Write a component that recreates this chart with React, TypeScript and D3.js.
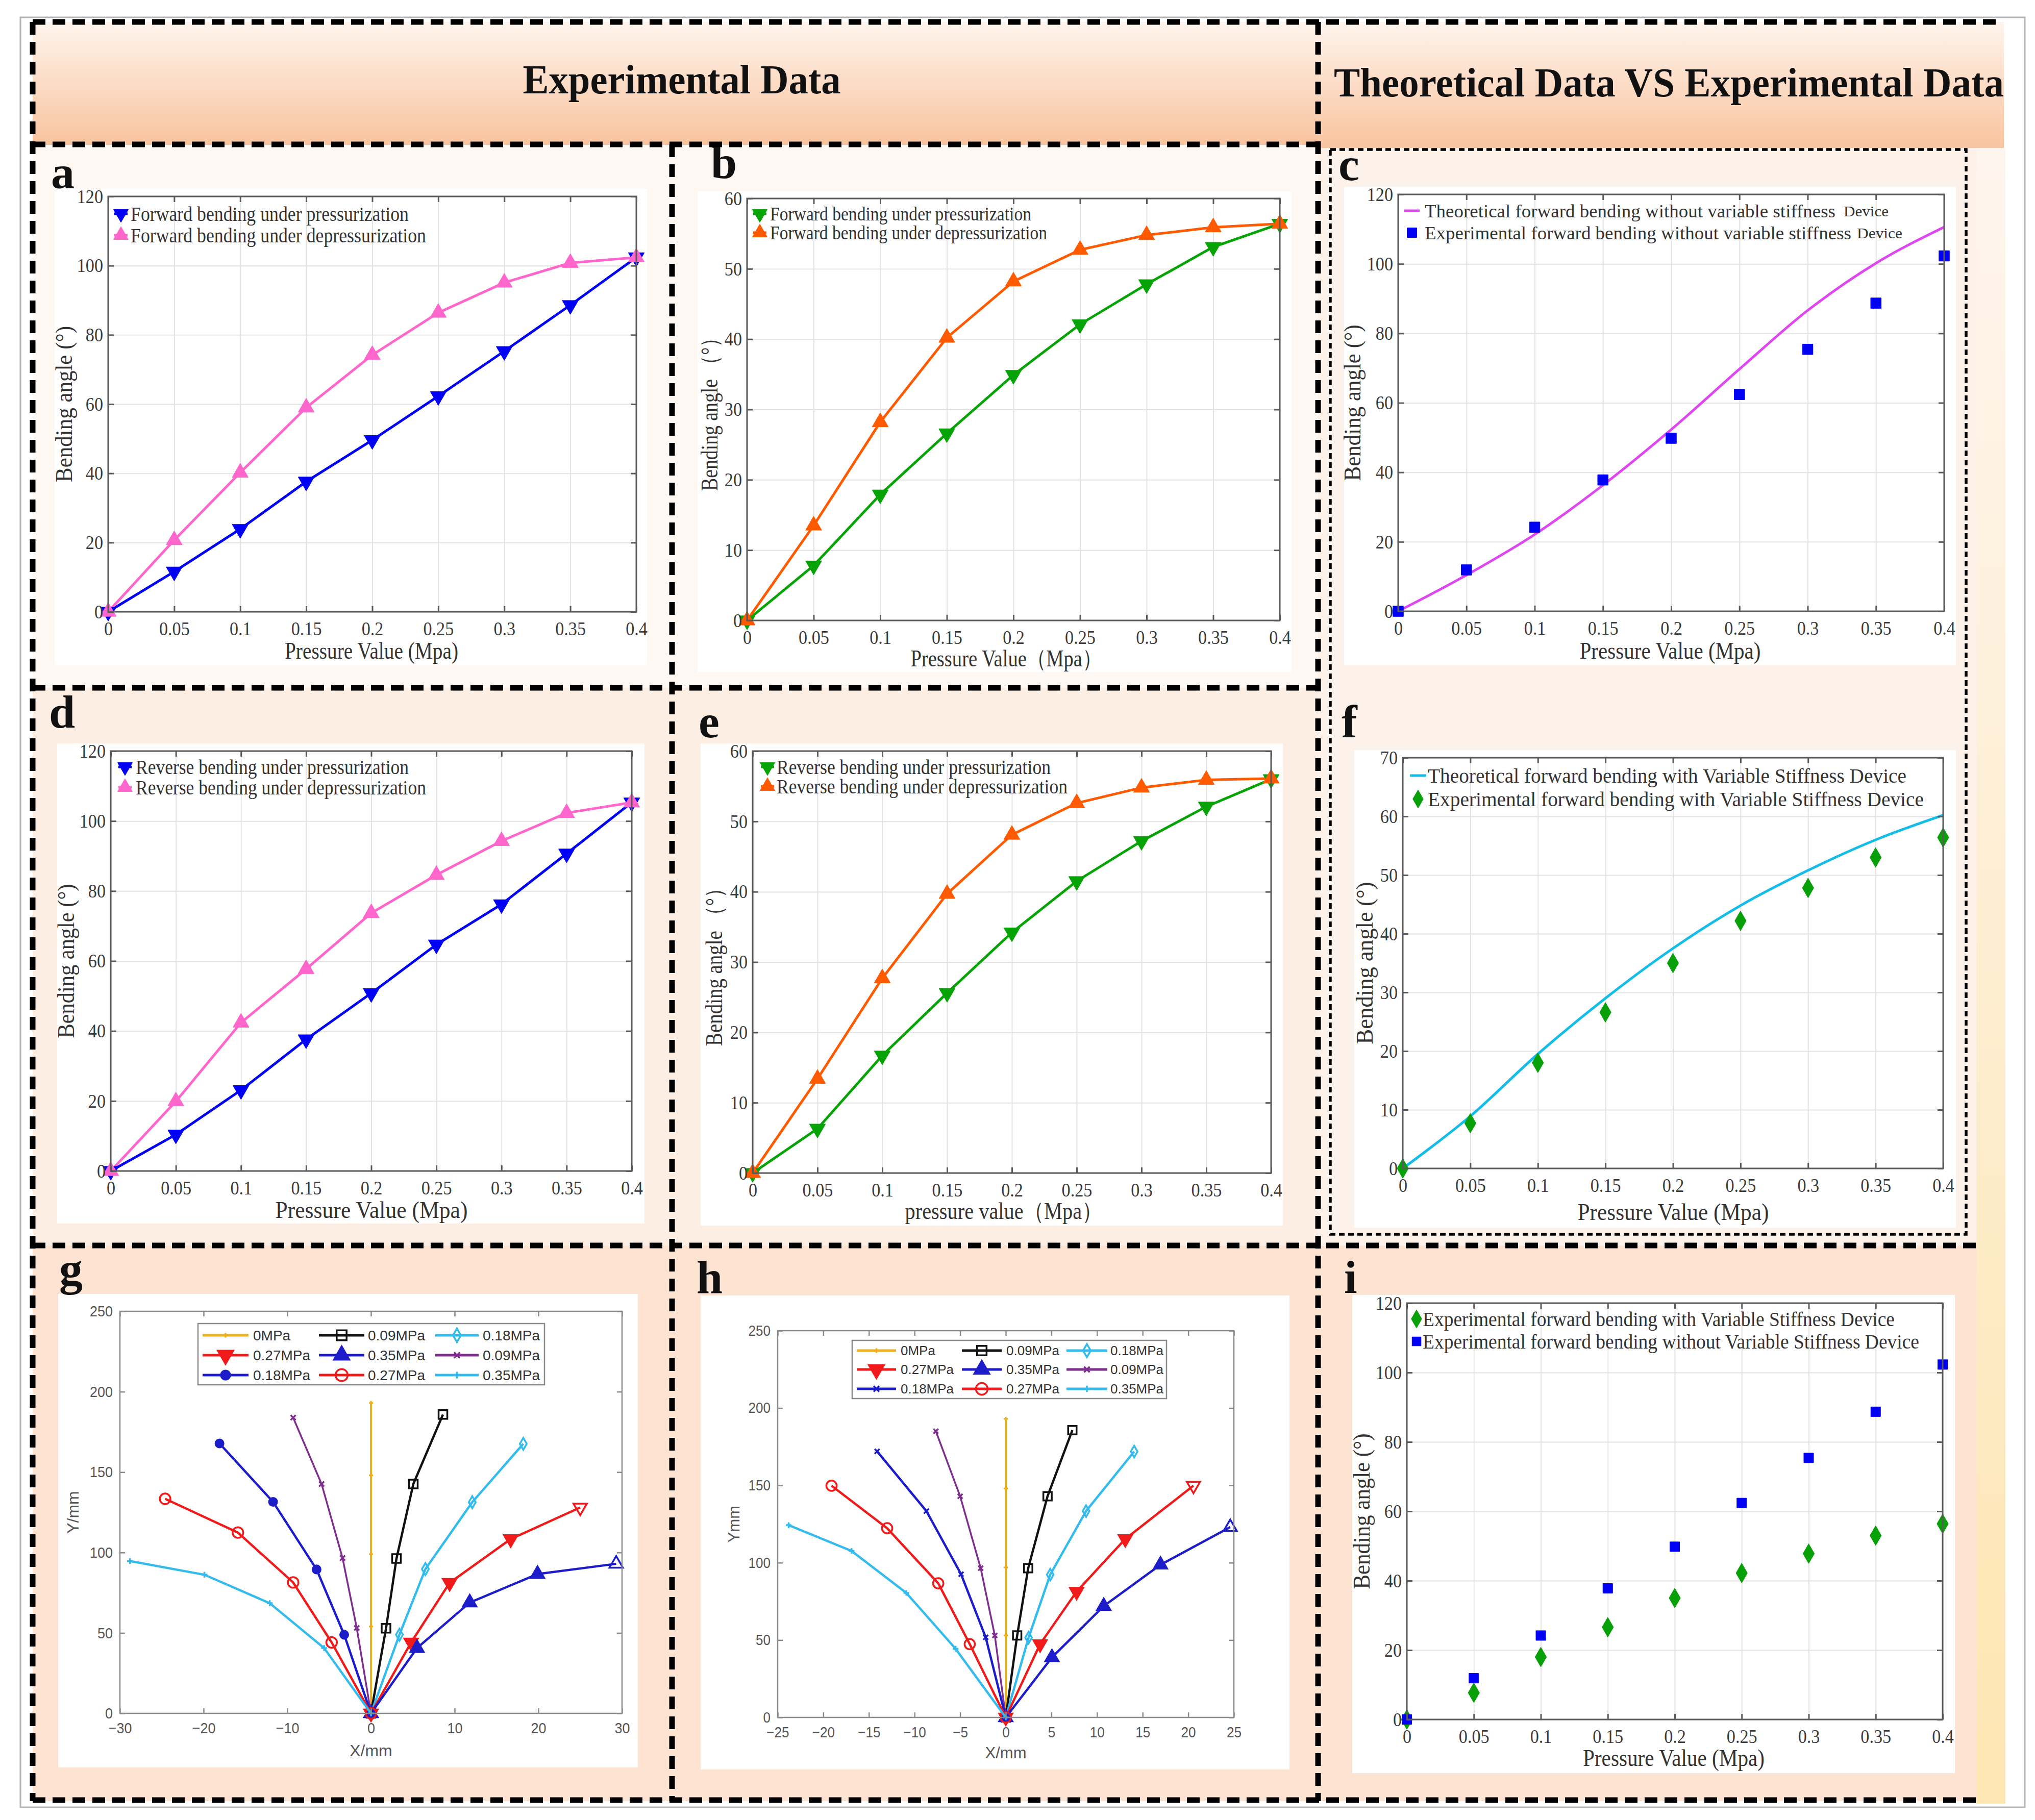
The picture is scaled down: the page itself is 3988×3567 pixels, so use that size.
import React, { useEffect, useRef } from 'react'
import * as d3 from 'd3'

const W = 3988
const H = 3567
const SERIF = '"Liberation Serif", "Times New Roman", serif'
const SANS = '"Liberation Sans", Arial, sans-serif'

// pressure steps (MPa) shared by panels a-f and i
const pressure = [0, 0.05, 0.1, 0.15, 0.2, 0.25, 0.3, 0.35, 0.4]
const pressureLabels = ['0', '0.05', '0.1', '0.15', '0.2', '0.25', '0.3', '0.35', '0.4']

// a: forward bending, no variable stiffness device
const fwdPress = [0, 11.6, 23.9, 37.6, 49.6, 62.3, 75.3, 88.6, 102.4]
const fwdDepress = [0, 20.7, 40.2, 59, 74.2, 86.4, 95.1, 100.8, 102.4]
// b: forward bending, with device
const fwdPressVS = [0, 7.8, 17.9, 26.6, 34.9, 42.1, 47.8, 53.1, 56.4]
const fwdDepressVS = [0, 13.5, 28.2, 40.2, 48.2, 52.7, 54.8, 55.9, 56.4]
// c: theory vs experiment, no device
const theoryNoVS = [0, 10.4, 22.1, 36.3, 52.3, 69.7, 86.6, 100.2, 110.6]
const expNoVS = [0, 11.9, 24.2, 37.8, 49.8, 62.4, 75.4, 88.7, 102.3]
// d: reverse bending, no device
const revPress = [0, 10.4, 23.1, 37.6, 50.8, 64.7, 76.2, 90.7, 105.3]
const revDepress = [0, 19.9, 42.4, 57.7, 73.7, 84.6, 94.3, 102.3, 105.3]
// e: reverse bending, with device
const revPressVS = [0, 6.3, 16.7, 25.6, 34.2, 41.5, 47.2, 52.1, 56]
const revDepressVS = [0, 13.4, 27.7, 39.7, 48.1, 52.6, 54.8, 55.9, 56.1]
// f: theory vs experiment, with device
const theoryVS = [0, 8.9, 19.5, 29, 37.5, 44.8, 50.8, 56, 60.2]
const expVS = [0, 7.7, 18, 26.6, 35, 42.2, 47.8, 53, 56.4]

// g: tip trajectories (X/mm, Y/mm)
const g0X = [0, 0, 0, 0, 0]
const g0Y = [0, 54, 99, 148, 193]
const gR09X = [0, 1.8, 3.05, 5.06, 8.6]
const gR09Y = [0, 52.9, 96.3, 142.6, 185.8]
const gR18X = [0, 3.4, 6.5, 12.1, 18.2]
const gR18Y = [0, 48.9, 89.7, 131.3, 167.6]
const gR27X = [0, 4.8, 9.4, 16.7, 25]
const gR27Y = [0, 44.1, 81.2, 108.4, 128]
const gR35X = [0, 5.5, 11.8, 19.9, 29.3]
const gR35Y = [0, 40.6, 68.9, 86.6, 93]
const gL09X = [0, -1.7, -3.4, -5.9, -9.3]
const gL09Y = [0, 53.1, 96.6, 142.6, 183.9]
const gL18X = [0, -3.2, -6.5, -11.7, -18.1]
const gL18Y = [0, 48.9, 89.5, 131.5, 167.8]
const gL27X = [0, -4.7, -9.3, -15.9, -24.6]
const gL27Y = [0, 44.1, 81.4, 112.4, 133.4]
const gL35X = [0, -5.6, -12.1, -19.9, -28.8]
const gL35Y = [0, 40.6, 68.5, 86.2, 94.7]

// h: tip trajectories (X/mm, Y/mm)
const h0X = [0, 0, 0, 0, 0]
const h0Y = [0, 53, 97, 148, 193]
const hR09X = [0, 1.25, 2.46, 4.58, 7.3]
const hR09Y = [0, 53, 96.5, 143, 185.7]
const hR18X = [0, 2.5, 4.87, 8.8, 14.07]
const hR18Y = [0, 51.6, 92.3, 133.4, 171.9]
const hR27X = [0, 3.76, 7.76, 13.1, 20.57]
const hR27Y = [0, 47.4, 81.3, 115.4, 149.8]
const hR35X = [0, 5.06, 10.74, 16.96, 24.6]
const hR35Y = [0, 38.8, 72, 98.7, 123]
const hL09X = [0, -1.2, -2.75, -5, -7.66]
const hL09Y = [0, 53, 96.5, 143, 185]
const hL18X = [0, -2.2, -4.9, -8.7, -14.1]
const hL18Y = [0, 51.8, 92.6, 133.4, 172]
const hL27X = [0, -3.95, -7.4, -13, -19.1]
const hL27Y = [0, 47.4, 86.7, 122.3, 149.8]
const hL35X = [0, -5.5, -10.9, -16.9, -23.8]
const hL35Y = [0, 44.4, 80.5, 107.6, 124.3]

const trajLabels = ['0MPa', '0.09MPa', '0.18MPa', '0.27MPa', '0.35MPa', '0.09MPa', '0.18MPa', '0.27MPa', '0.35MPa']

type Mk = 'tup' | 'tdown' | 'square' | 'diamond' | 'circle' | 'plus' | 'times' | 'none'
type Sel = d3.Selection<any, unknown, null, undefined>

const symbolFor = (t: Mk): d3.SymbolType => {
    const s: any = d3
    switch (t) {
        case 'tup':
        case 'tdown': return d3.symbolTriangle
        case 'square': return d3.symbolSquare
        case 'diamond': return d3.symbolDiamond
        case 'circle': return d3.symbolCircle
        case 'plus': return s.symbolPlus ?? d3.symbolCross
        default: return s.symbolTimes ?? d3.symbolCross
    }
}

function addMarker(g: Sel, type: Mk, cx: number, cy: number, size: number, color: string, filled: boolean, sw = 3) {
    if (type === 'none') return
    const stroked = type === 'plus' || type === 'times'
    g.append('path')
        .attr('d', d3.symbol(symbolFor(type), size)() as string)
        .attr('transform', `translate(${cx},${cy})${type === 'tdown' ? ' rotate(180)' : ''}`)
        .attr('fill', !stroked && filled ? color : 'none')
        .attr('stroke', color)
        .attr('stroke-width', sw)
}

interface AxStyle { font: string; fs: number; line: string; text: string; sw: number; tick: number; padX: number; padY: number }

// MATLAB-like box: inward ticks on all four sides
function boxAxes(root: Sel, x: d3.ScaleLinear<number, number>, y: d3.ScaleLinear<number, number>,
    xTicks: number[], yTicks: number[], xFmt: (d: any, i: number) => string, ax: number[], st: AxStyle) {
    const [L, T, R, B] = ax
    const style = (s: Sel, labels: boolean) => {
        s.select('.domain').remove()
        s.selectAll('line').attr('stroke', st.line).attr('stroke-width', st.sw)
        if (labels) s.selectAll('text').attr('class', 'cz').attr('font-family', st.font).attr('font-size', st.fs).attr('fill', st.text)
        else s.selectAll('text').remove()
    }
    root.append('g').attr('transform', `translate(0,${B})`)
        .call(d3.axisBottom(x).tickValues(xTicks).tickFormat(xFmt).tickSizeInner(-st.tick).tickSizeOuter(0).tickPadding(st.padX))
        .call(s => style(s, true))
    root.append('g').attr('transform', `translate(0,${T})`)
        .call(d3.axisTop(x).tickValues(xTicks).tickFormat(() => '').tickSizeInner(-st.tick).tickSizeOuter(0))
        .call(s => style(s, false))
    root.append('g').attr('transform', `translate(${L},0)`)
        .call(d3.axisLeft(y).tickValues(yTicks).tickFormat(d3.format('d')).tickSizeInner(-st.tick).tickSizeOuter(0).tickPadding(st.padY))
        .call(s => style(s, true))
    root.append('g').attr('transform', `translate(${R},0)`)
        .call(d3.axisRight(y).tickValues(yTicks).tickFormat(() => '').tickSizeInner(-st.tick).tickSizeOuter(0))
        .call(s => style(s, false))
    root.append('rect').attr('x', L).attr('y', T).attr('width', R - L).attr('height', B - T)
        .attr('fill', 'none').attr('stroke', st.line).attr('stroke-width', st.sw)
}

interface SeriesCfg {
    values: number[]; color: string; marker: Mk; size: number; line: boolean; smooth?: boolean; label: string
    tail?: string; tailX?: number; tailLen?: number
}
interface SerifCfg {
    box: number[]; ax: number[]; yMax: number; yStep: number; series: SeriesCfg[]
    legY: number[]; legMarkX: number; legLine: number; legTextX: number; legFs: number; legLens: number[]
    xLabel: string; xLabelX: number; xLabelY: number; xLabelLen: number
    yLabel: string; yLabelX: number; yLabelLen: number
}

const serifStyle: AxStyle = { font: SERIF, fs: 38, line: '#5a5a5a', text: '#3a3a3a', sw: 3, tick: 11, padX: 19, padY: 10 }

function serifPanel(root: Sel, p: SerifCfg) {
    const [L, T, R, B] = p.ax
    const x = d3.scaleLinear().domain([0, 0.4]).range([L, R])
    const y = d3.scaleLinear().domain([0, p.yMax]).range([B, T])
    const yTicks = d3.range(0, p.yMax + 1e-9, p.yStep)
    const g = root.append('g')
    g.append('rect').attr('x', p.box[0]).attr('y', p.box[1])
        .attr('width', p.box[2] - p.box[0]).attr('height', p.box[3] - p.box[1]).attr('fill', '#fff')

    // grid
    g.append('g').attr('transform', `translate(0,${B})`)
        .call(d3.axisBottom(x).tickValues(pressure).tickSize(-(B - T)).tickFormat(() => ''))
        .call(s => { s.select('.domain').remove(); s.selectAll('text').remove(); s.selectAll('line').attr('stroke', '#e3e3e3').attr('stroke-width', 2) })
    g.append('g').attr('transform', `translate(${L},0)`)
        .call(d3.axisLeft(y).tickValues(yTicks).tickSize(-(R - L)).tickFormat(() => ''))
        .call(s => { s.select('.domain').remove(); s.selectAll('text').remove(); s.selectAll('line').attr('stroke', '#e3e3e3').attr('stroke-width', 2) })

    p.series.forEach(s => {
        if (!s.line) return
        const line = d3.line<number>().x((_, i) => x(pressure[i])).y(v => y(v))
            .curve(s.smooth ? d3.curveMonotoneX : d3.curveLinear)
        g.append('path').attr('d', line(s.values)).attr('fill', 'none').attr('stroke', s.color).attr('stroke-width', 5)
    })
    p.series.forEach(s => {
        s.values.forEach((v, i) => addMarker(g, s.marker, x(pressure[i]), y(v), s.size, s.color, true, 1))
    })

    boxAxes(g, x, y, pressure, yTicks, (_d, i) => pressureLabels[i], p.ax, serifStyle)

    // legend
    p.series.forEach((s, i) => {
        const ly = p.legY[i]
        if (s.line) g.append('line').attr('x1', p.legMarkX - p.legLine / 2).attr('x2', p.legMarkX + p.legLine / 2)
            .attr('y1', ly).attr('y2', ly).attr('stroke', s.color).attr('stroke-width', 5)
        addMarker(g, s.marker, p.legMarkX, ly, s.size * 0.85, s.color, true, 1)
        g.append('text').attr('x', p.legTextX).attr('y', ly).attr('dy', '0.35em')
            .attr('font-family', SERIF).attr('font-size', p.legFs).attr('fill', '#333')
            .attr('textLength', p.legLens[i]).attr('lengthAdjust', 'spacingAndGlyphs').text(s.label)
        if (s.tail) g.append('text').attr('x', s.tailX!).attr('y', ly).attr('dy', '0.35em')
            .attr('font-family', SERIF).attr('font-size', p.legFs * 0.84).attr('fill', '#333')
            .attr('textLength', s.tailLen!).attr('lengthAdjust', 'spacingAndGlyphs').text(s.tail)
    })

    g.append('text').attr('x', p.xLabelX).attr('y', p.xLabelY).attr('text-anchor', 'middle')
        .attr('font-family', SERIF).attr('font-size', 46).attr('fill', '#333')
        .attr('textLength', p.xLabelLen).attr('lengthAdjust', 'spacingAndGlyphs').text(p.xLabel)
    g.append('text').attr('transform', `translate(${p.yLabelX},${(T + B) / 2}) rotate(-90)`)
        .attr('text-anchor', 'middle').attr('dy', '0.35em')
        .attr('font-family', SERIF).attr('font-size', 46).attr('fill', '#333')
        .attr('textLength', p.yLabelLen).attr('lengthAdjust', 'spacingAndGlyphs').text(p.yLabel)
}

interface TrajSeries { xs: number[]; ys: number[]; color: string; marker: Mk; size: number; filled: boolean; lastOpen?: boolean; width?: number }
interface TrajCfg {
    box: number[]; ax: number[]; xMax: number; xStep: number; series: TrajSeries[]
    legBox: number[]; legRows: number[]; legCols: number[][]; legFs: number
    tickFs: number; xLabel: string; xLabelX: number; xLabelY: number; yLabel: string; yLabelX: number
}

function trajPanel(root: Sel, p: TrajCfg) {
    const [L, T, R, B] = p.ax
    const x = d3.scaleLinear().domain([-p.xMax, p.xMax]).range([L, R])
    const y = d3.scaleLinear().domain([0, 250]).range([B, T])
    const g = root.append('g')
    g.append('rect').attr('x', p.box[0]).attr('y', p.box[1])
        .attr('width', p.box[2] - p.box[0]).attr('height', p.box[3] - p.box[1]).attr('fill', '#fff')

    p.series.forEach(s => {
        const line = d3.line<number>().x(v => x(v)).y((_, i) => y(s.ys[i]))
        g.append('path').attr('d', line(s.xs)).attr('fill', 'none').attr('stroke', s.color).attr('stroke-width', s.width ?? 4.5)
        s.xs.forEach((v, i) => {
            const open = !s.filled || (s.lastOpen && i === s.xs.length - 1)
            addMarker(g, s.marker, x(v), y(s.ys[i]), s.size, s.color, !open, 3.5)
        })
    })

    const st: AxStyle = { font: SANS, fs: p.tickFs, line: '#8a8a8a', text: '#555', sw: 2.5, tick: 10, padX: 18, padY: 14 }
    const xTicks = d3.range(-p.xMax, p.xMax + 1e-9, p.xStep)
    boxAxes(g, x, y, xTicks, d3.range(0, 251, 50), d3.format('d'), p.ax, st)

    // legend, three columns
    const [bx0, by0, bx1, by1] = p.legBox
    g.append('rect').attr('x', bx0).attr('y', by0).attr('width', bx1 - bx0).attr('height', by1 - by0)
        .attr('fill', '#fff').attr('stroke', '#8a8a8a').attr('stroke-width', 2.5)
    p.series.forEach((s, i) => {
        const ly = p.legRows[Math.floor(i / 3)]
        const [x0, x1, tx] = p.legCols[i % 3]
        g.append('line').attr('x1', x0).attr('x2', x1).attr('y1', ly).attr('y2', ly)
            .attr('stroke', s.color).attr('stroke-width', 5)
        addMarker(g, s.marker, (x0 + x1) / 2, ly, s.size * 1.3, s.color, s.filled, 3.5)
        g.append('text').attr('x', tx).attr('y', ly).attr('dy', '0.36em')
            .attr('font-family', SANS).attr('font-size', p.legFs).attr('fill', '#333').text(trajLabels[i])
    })

    g.append('text').attr('x', p.xLabelX).attr('y', p.xLabelY).attr('text-anchor', 'middle')
        .attr('font-family', SANS).attr('font-size', p.tickFs + 2).attr('fill', '#555').text(p.xLabel)
    g.append('text').attr('transform', `translate(${p.yLabelX},${(T + B) / 2}) rotate(-90)`)
        .attr('text-anchor', 'middle').attr('dy', '0.35em')
        .attr('font-family', SANS).attr('font-size', p.tickFs + 2).attr('fill', '#555').text(p.yLabel)
}

const BLUE = '#0000f5'
const PINK = '#ff66cc'
const GREEN = '#05a305'
const ORANGE = '#ff5a00'
const MAGENTA = '#de46f0'
const CYANLINE = '#14bce8'
const DGREEN = '#08a008'

const YEL = '#edb120'
const BLK = '#111111'
const CYN = '#33bbee'
const RED = '#f01a1a'
const DBLU = '#1c1cc8'
const PUR = '#7e2f8e'

function draw(svg: Sel) {
    const defs = svg.append('defs')
    const hg = defs.append('linearGradient').attr('id', 'hdr').attr('x1', 0).attr('y1', 0).attr('x2', 0).attr('y2', 1)
    hg.append('stop').attr('offset', 0).attr('stop-color', '#fff4ec')
    hg.append('stop').attr('offset', 1).attr('stop-color', '#f8c39e')
    const sg = defs.append('linearGradient').attr('id', 'strip').attr('x1', 0).attr('y1', 0).attr('x2', 0).attr('y2', 1)
    sg.append('stop').attr('offset', 0).attr('stop-color', '#fef5ee')
    sg.append('stop').attr('offset', 1).attr('stop-color', '#fde6b2')

    svg.append('rect').attr('width', W).attr('height', H).attr('fill', '#fff')

    // backgrounds
    const bg = (x0: number, y0: number, x1: number, y1: number, fill: string) =>
        svg.append('rect').attr('x', x0).attr('y', y0).attr('width', x1 - x0).attr('height', y1 - y0).attr('fill', fill)
    bg(64, 43, 2583, 284, 'url(#hdr)')
    bg(2583, 43, 3927, 290, 'url(#hdr)')
    bg(64, 284, 2583, 1348, '#fff7f1')
    bg(64, 1348, 2583, 2441, '#fdeee4')
    bg(2583, 290, 3873, 2441, '#fdf2e9')
    bg(64, 2441, 3873, 3530, '#fde3d2')
    bg(3873, 290, 3930, 3535, 'url(#strip)')
    svg.append('rect').attr('x', 40).attr('y', 34).attr('width', 3928).attr('height', 3508)
        .attr('fill', 'none').attr('stroke', '#b4b4b4').attr('stroke-width', 3)

    // headers
    svg.append('text').attr('x', 1336).attr('y', 183).attr('text-anchor', 'middle')
        .attr('font-family', SERIF).attr('font-weight', 'bold').attr('font-size', 80).attr('fill', '#111')
        .attr('textLength', 623).attr('lengthAdjust', 'spacingAndGlyphs').text('Experimental Data')
    svg.append('text').attr('x', 2614).attr('y', 189)
        .attr('font-family', SERIF).attr('font-weight', 'bold').attr('font-size', 80).attr('fill', '#111')
        .attr('textLength', 1313).attr('lengthAdjust', 'spacingAndGlyphs').text('Theoretical Data VS Experimental Data')

    // a
    serifPanel(svg, {
        box: [107, 370, 1268, 1304], ax: [212, 385, 1247, 1199], yMax: 120, yStep: 20,
        series: [
            { values: fwdPress, color: BLUE, marker: 'tdown', size: 430, line: true, label: 'Forward bending under pressurization' },
            { values: fwdDepress, color: PINK, marker: 'tup', size: 430, line: true, label: 'Forward bending under depressurization' },
        ],
        legY: [419, 461], legMarkX: 237, legLine: 26, legTextX: 256, legFs: 39, legLens: [545, 579],
        xLabel: 'Pressure Value (Mpa)', xLabelX: 728, xLabelY: 1291, xLabelLen: 340,
        yLabel: 'Bending angle (°)', yLabelX: 125, yLabelLen: 306,
    })
    // b
    serifPanel(svg, {
        box: [1367, 375, 2531, 1317], ax: [1464, 389, 2508, 1216], yMax: 60, yStep: 10,
        series: [
            { values: fwdPressVS, color: GREEN, marker: 'tdown', size: 430, line: true, label: 'Forward bending under pressurization' },
            { values: fwdDepressVS, color: ORANGE, marker: 'tup', size: 430, line: true, label: 'Forward bending under depressurization' },
        ],
        legY: [419, 456], legMarkX: 1489, legLine: 26, legTextX: 1509, legFs: 37, legLens: [512, 543],
        xLabel: 'Pressure Value（Mpa）', xLabelX: 1972, xLabelY: 1306, xLabelLen: 375,
        yLabel: 'Bending angle （°）', yLabelX: 1390, yLabelLen: 319,
    })
    // c
    serifPanel(svg, {
        box: [2634, 366, 3833, 1304], ax: [2740, 381, 3810, 1198], yMax: 120, yStep: 20,
        series: [
            { values: theoryNoVS, color: MAGENTA, marker: 'none', size: 0, line: true, smooth: true, label: 'Theoretical forward bending without variable stiffness', tail: 'Device', tailX: 3613, tailLen: 88 },
            { values: expNoVS, color: BLUE, marker: 'square', size: 420, line: false, label: 'Experimental forward bending without variable stiffness', tail: 'Device', tailX: 3639, tailLen: 89 },
        ],
        legY: [413, 456], legMarkX: 2767, legLine: 30, legTextX: 2792, legFs: 36, legLens: [805, 836],
        xLabel: 'Pressure Value (Mpa)', xLabelX: 3273, xLabelY: 1291, xLabelLen: 355,
        yLabel: 'Bending angle (°)', yLabelX: 2650, yLabelLen: 306,
    })
    // d
    serifPanel(svg, {
        box: [112, 1457, 1263, 2398], ax: [217, 1472, 1238, 2295], yMax: 120, yStep: 20,
        series: [
            { values: revPress, color: BLUE, marker: 'tdown', size: 430, line: true, label: 'Reverse bending under pressurization' },
            { values: revDepress, color: PINK, marker: 'tup', size: 430, line: true, label: 'Reverse bending under depressurization' },
        ],
        legY: [1503, 1543], legMarkX: 245, legLine: 26, legTextX: 266, legFs: 39, legLens: [535, 569],
        xLabel: 'Pressure Value (Mpa)', xLabelX: 728, xLabelY: 2387, xLabelLen: 377,
        yLabel: 'Bending angle (°)', yLabelX: 129, yLabelLen: 302,
    })
    // e
    serifPanel(svg, {
        box: [1373, 1457, 2514, 2402], ax: [1475, 1472, 2491, 2299], yMax: 60, yStep: 10,
        series: [
            { values: revPressVS, color: GREEN, marker: 'tdown', size: 430, line: true, label: 'Reverse bending under pressurization' },
            { values: revDepressVS, color: ORANGE, marker: 'tup', size: 430, line: true, label: 'Reverse bending under depressurization' },
        ],
        legY: [1503, 1541], legMarkX: 1504, legLine: 26, legTextX: 1522, legFs: 39, legLens: [537, 570],
        xLabel: 'pressure value（Mpa）', xLabelX: 1967, xLabelY: 2389, xLabelLen: 387,
        yLabel: 'Bending angle （°）', yLabelX: 1399, yLabelLen: 329,
    })
    // f
    serifPanel(svg, {
        box: [2654, 1470, 3833, 2406], ax: [2749, 1485, 3808, 2290], yMax: 70, yStep: 10,
        series: [
            { values: theoryVS, color: CYANLINE, marker: 'none', size: 0, line: true, smooth: true, label: 'Theoretical forward bending with Variable Stiffness Device' },
            { values: expVS, color: DGREEN, marker: 'diamond', size: 430, line: false, label: 'Experimental forward bending with Variable Stiffness Device' },
        ],
        legY: [1520, 1566], legMarkX: 2779, legLine: 32, legTextX: 2798, legFs: 41, legLens: [938, 972],
        xLabel: 'Pressure Value (Mpa)', xLabelX: 3279, xLabelY: 2391, xLabelLen: 375,
        yLabel: 'Bending angle (°)', yLabelX: 2674, yLabelLen: 318,
    })
    // i
    serifPanel(svg, {
        box: [2650, 2538, 3831, 3475], ax: [2757, 2554, 3807, 3370], yMax: 120, yStep: 20,
        series: [
            { values: expVS, color: DGREEN, marker: 'diamond', size: 430, line: false, label: 'Experimental forward bending with Variable Stiffness Device' },
            { values: expNoVS, color: BLUE, marker: 'square', size: 360, line: false, label: 'Experimental forward bending without Variable Stiffness Device' },
        ],
        legY: [2585, 2629], legMarkX: 2776, legLine: 0, legTextX: 2788, legFs: 41, legLens: [925, 973],
        xLabel: 'Pressure Value (Mpa)', xLabelX: 3280, xLabelY: 3461, xLabelLen: 356,
        yLabel: 'Bending angle (°)', yLabelX: 2668, yLabelLen: 305,
    })

    // g
    trajPanel(svg, {
        box: [114, 2536, 1250, 3464], ax: [235, 2570, 1219, 3358], xMax: 30, xStep: 10,
        series: [
            { xs: g0X, ys: g0Y, color: YEL, marker: 'plus', size: 22, filled: false, width: 4 },
            { xs: gR09X, ys: gR09Y, color: BLK, marker: 'square', size: 290, filled: false },
            { xs: gR18X, ys: gR18Y, color: CYN, marker: 'diamond', size: 160, filled: false },
            { xs: gR27X, ys: gR27Y, color: RED, marker: 'tdown', size: 300, filled: true, lastOpen: true },
            { xs: gR35X, ys: gR35Y, color: DBLU, marker: 'tup', size: 300, filled: true, lastOpen: true },
            { xs: gL09X, ys: gL09Y, color: PUR, marker: 'times', size: 65, filled: false, width: 3.5 },
            { xs: gL18X, ys: gL18Y, color: DBLU, marker: 'circle', size: 190, filled: true },
            { xs: gL27X, ys: gL27Y, color: RED, marker: 'circle', size: 340, filled: false },
            { xs: gL35X, ys: gL35Y, color: CYN, marker: 'plus', size: 45, filled: false },
        ],
        legBox: [388, 2594, 1067, 2714], legRows: [2617, 2656, 2695],
        legCols: [[397, 487, 496], [625, 714, 721], [853, 938, 946]], legFs: 28,
        tickFs: 30, xLabel: 'X/mm', xLabelX: 727, xLabelY: 3442, yLabel: 'Y/mm', yLabelX: 143,
    })
    // h
    trajPanel(svg, {
        box: [1373, 2539, 2527, 3468], ax: [1524, 2608, 2418, 3366], xMax: 25, xStep: 5,
        series: [
            { xs: h0X, ys: h0Y, color: YEL, marker: 'plus', size: 22, filled: false, width: 4 },
            { xs: hR09X, ys: hR09Y, color: BLK, marker: 'square', size: 270, filled: false },
            { xs: hR18X, ys: hR18Y, color: CYN, marker: 'diamond', size: 150, filled: false },
            { xs: hR27X, ys: hR27Y, color: RED, marker: 'tdown', size: 290, filled: true, lastOpen: true },
            { xs: hR35X, ys: hR35Y, color: DBLU, marker: 'tup', size: 290, filled: true, lastOpen: true },
            { xs: hL09X, ys: hL09Y, color: PUR, marker: 'times', size: 60, filled: false, width: 3.5 },
            { xs: hL18X, ys: hL18Y, color: DBLU, marker: 'times', size: 60, filled: false },
            { xs: hL27X, ys: hL27Y, color: RED, marker: 'circle', size: 320, filled: false },
            { xs: hL35X, ys: hL35Y, color: CYN, marker: 'plus', size: 42, filled: false },
        ],
        legBox: [1670, 2627, 2286, 2741], legRows: [2647, 2684, 2722],
        legCols: [[1679, 1756, 1765], [1885, 1963, 1972], [2090, 2170, 2176]], legFs: 26,
        tickFs: 29, xLabel: 'X/mm', xLabelX: 1971, xLabelY: 3446, yLabel: 'Ymm', yLabelX: 1438,
    })

    // panel letters
    const letters: [string, number, number][] = [
        ['a', 100, 369], ['b', 1393, 349], ['c', 2623, 353],
        ['d', 96, 1426], ['e', 1369, 1445], ['f', 2629, 1445],
        ['g', 116, 2519], ['h', 1365, 2534], ['i', 2634, 2534],
    ]
    letters.forEach(([t, lx, ly]) => svg.append('text').attr('x', lx).attr('y', ly)
        .attr('font-family', SERIF).attr('font-weight', 'bold').attr('font-size', 92).attr('fill', '#111').text(t))

    // dashed frame
    const dash = (x1: number, y1: number, x2: number, y2: number) => svg.append('line')
        .attr('x1', x1).attr('y1', y1).attr('x2', x2).attr('y2', y2)
        .attr('stroke', '#000').attr('stroke-width', 11).attr('stroke-dasharray', '25 14')
    dash(64, 43, 3918, 43)
    dash(64, 43, 64, 3530)
    dash(64, 283, 2583, 283)
    dash(2583, 43, 2583, 3530)
    dash(1317, 283, 1317, 3530)
    dash(64, 1348, 2583, 1348)
    dash(64, 2441, 3873, 2441)
    dash(64, 3528, 3873, 3528)
    svg.append('rect').attr('x', 2607).attr('y', 293).attr('width', 3853 - 2607).attr('height', 2419 - 293)
        .attr('fill', 'none').attr('stroke', '#000').attr('stroke-width', 5.5).attr('stroke-dasharray', '11 7')

    // the source text is horizontally condensed
    svg.selectAll<SVGTextElement, unknown>('text.cz').each(function () {
        const len = this.getComputedTextLength()
        if (len > 0) d3.select(this).attr('textLength', len * 0.9).attr('lengthAdjust', 'spacingAndGlyphs')
    })
}

export default function App() {
    const svgRef = useRef<SVGSVGElement>(null)

    useEffect(() => {
        if (!svgRef.current) return
        const svg = d3.select(svgRef.current) as unknown as Sel
        svg.selectAll('*').remove()
        draw(svg)
    }, [])

    return (
        <svg ref={svgRef} width={W} height={H} viewBox={`0 0 ${W} ${H}`}
            style={{ position: 'absolute', left: 0, top: 0, display: 'block' }} />
    )
}
